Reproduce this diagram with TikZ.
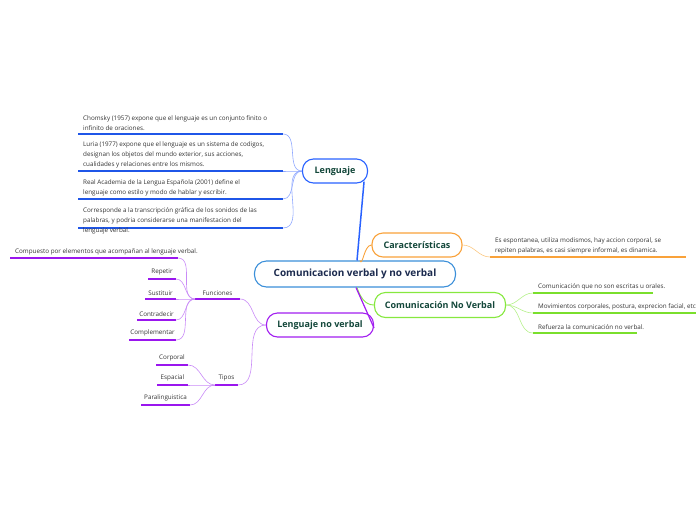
\documentclass[tikz,border=0pt]{standalone}
\usepackage{fontspec}
\setmainfont{Open Sans}
\usetikzlibrary{calc}
\definecolor{rootline}{HTML}{3B8FD9}
\definecolor{roottxt}{HTML}{1B2A4E}
\definecolor{topictxt}{HTML}{13473A}
\definecolor{leaftxt}{HTML}{333333}
\definecolor{lenblue}{HTML}{2962FF}
\definecolor{lenthin}{HTML}{8FA8FF}
\definecolor{lenul}{HTML}{1F56E8}
\definecolor{carorange}{HTML}{F9A23A}
\definecolor{carthin}{HTML}{FBC882}
\definecolor{cnvgreen}{HTML}{86E83F}
\definecolor{cnvthin}{HTML}{B5F08A}
\definecolor{cnvul}{HTML}{7ADF2C}
\definecolor{lnvpurple}{HTML}{A21EF0}
\definecolor{lnvthin}{HTML}{C98BF7}
\definecolor{lnvul}{HTML}{9A16EE}

\begin{document}
\begin{tikzpicture}[x=1pt,y=-1pt,
  topic/.style={draw,rounded corners=11pt,line width=1.1pt,fill=white,text=topictxt,
    font=\bfseries\fontsize{9}{11}\selectfont,minimum height=24pt,inner sep=2pt},
  leaf/.style={font=\fontsize{6.3}{10}\selectfont,text=leaftxt,align=left,inner sep=1pt,anchor=south west},
  short/.style={font=\fontsize{6.3}{10}\selectfont,text=leaftxt,inner sep=1.5pt,anchor=south},
  ul/.style={line width=1.6pt},
  ln/.style={line width=0.6pt}]
\useasboundingbox (0,0) rectangle (696,520);

% main topics
\node[topic,draw=rootline,text=roottxt,font=\bfseries\fontsize{10}{12}\selectfont,minimum width=201pt,minimum height=26pt,rounded corners=12pt] (root) at (355,274) {Comunicacion verbal y no verbal};
\node[topic,draw=lenblue,minimum width=65pt] (len) at (335,171) {Lenguaje};
\node[topic,draw=carorange,minimum width=90pt] (car) at (417,245) {Características};
\node[topic,draw=cnvgreen,minimum width=131pt,minimum height=25pt] (cnv) at (440,305) {Comunicación No Verbal};
\node[topic,draw=lnvpurple,minimum width=107pt] (lnv) at (320,325) {Lenguaje no verbal};

\draw[lenblue,line width=1.5pt] ([xshift=2pt]root.north) -- ($(len.south east)+(-4,-2)$);
\draw[carorange,line width=0.9pt] ([xshift=5pt]root.north) to[out=-70,in=180] (car.west);
\draw[cnvgreen,line width=0.9pt] ([xshift=2pt]root.south) to[out=-70,in=180] (cnv.west);
\draw[lnvpurple,line width=1.2pt] ([xshift=1pt]root.south) -- ($(lnv.east)+(0,3)$);

% Lenguaje
\foreach \n/\y/\t in {chom/134/{Chomsky (1957) expone que el lenguaje es un conjunto finito o\\infinito de oraciones.},
  luri/171/{Luria (1977) expone que el lenguaje es un sistema de codigos,\\designan los objetos del mundo exterior, sus acciones,\\cualidades y relaciones entre los mismos.},
  real/199/{Real Academia de la Lengua Española (2001) define el\\lenguaje como estilo y modo de hablar y escribir.}}{
  \coordinate (\n-a) at (78,\y); \coordinate (\n-b) at (283,\y);
  \draw[ul,lenul] (\n-a) -- (\n-b);
  \node[leaf] (\n) at ($(\n-a)+(4,-2)$) {\t};
  \draw[ln,lenthin] (\n-b) to[out=0,in=180] (len.west);
}
\coordinate (corr-a) at (78,228); \coordinate (corr-b) at (283,228);
\draw[ul,lenul] (corr-a) -- (corr-b);
\node[leaf,anchor=north west] (corr) at (82,206) {Corresponde a la transcripción gráfica de los sonidos de las\\palabras, y podria considerarse una manifestacion del\\lenguaje verbal.};
\draw[ln,lenthin] (corr-b) to[out=0,in=180] (len.west);

% Caracteristicas
\coordinate (esp-a) at (490,257); \coordinate (esp-b) at (686,257);
\draw[ul,carorange] (esp-a) -- (esp-b);
\node[leaf] (esp) at ($(esp-a)+(4,-2)$) {Es espontanea, utiliza modismos, hay accion corporal, se\\repiten palabras, es casi siempre informal, es dinamica.};
\draw[ln,carthin] (car.east) to[out=0,in=180] (esp-a);

% Comunicacion No Verbal
\foreach \n/\y/\e/\t in {esc/293/653/{Comunicación que no son escritas u orales.},
  mov/313/700/{Movimientos corporales, postura, exprecion facial, etc},
  ref/333/637/{Refuerza la comunicación no verbal.}}{
  \coordinate (\n-a) at (533,\y); \coordinate (\n-b) at (\e,\y);
  \draw[ul,cnvul] (\n-a) -- (\n-b);
  \node[leaf] (\n) at ($(\n-a)+(4,-2)$) {\t};
  \draw[ln,cnvthin] (cnv.east) to[out=0,in=180] (\n-a);
}

% Lenguaje no verbal
\coordinate (fun-a) at (195,299); \coordinate (fun-b) at (240,299);
\draw[ul,lnvul] (fun-a) -- (fun-b);
\node[short] (fun) at ($(fun-a)!0.5!(fun-b)+(0,-2)$) {Funciones};
\draw[ln,lnvthin] (fun-b) to[out=0,in=180] (lnv.west);

\coordinate (tip-a) at (215,385); \coordinate (tip-b) at (238,385);
\draw[ul,lnvul] (tip-a) -- (tip-b);
\node[short] (tip) at ($(tip-a)!0.5!(tip-b)+(0,-2)$) {Tipos};
\draw[ln,lnvthin] (tip-b) to[out=0,in=180] (lnv.west);

\coordinate (comp-a) at (10,258); \coordinate (comp-b) at (178,258);
\draw[ul,lnvul] (comp-a) -- (comp-b);
\node[leaf] (comp) at ($(comp-a)+(4,-2)$) {Compuesto por elementos que acompañan al lenguaje verbal.};
\draw[ln,lnvthin] (comp-b) to[out=0,in=180] (fun-a);

\foreach \n/\x/\y/\t in {rep/148/279/Repetir, sus/145/299/Sustituir, con/137/320/Contradecir, cmp/129/340/Complementar}{
  \coordinate (\n-a) at (\x,\y); \coordinate (\n-b) at (176,\y);
  \draw[ul,lnvul] (\n-a) -- (\n-b);
  \node[short] (\n) at ($(\n-a)!0.5!(\n-b)+(0,-2)$) {\t};
  \draw[ln,lnvthin] (\n-b) to[out=0,in=180] (fun-a);
}
\foreach \n/\x/\y/\e/\t in {cor/156/365/188/Corporal, esl/157/385/188/Espacial, par/141/405/190/Paralinguistica}{
  \coordinate (\n-a) at (\x,\y); \coordinate (\n-b) at (\e,\y);
  \draw[ul,lnvul] (\n-a) -- (\n-b);
  \node[short] (\n) at ($(\n-a)!0.5!(\n-b)+(0,-2)$) {\t};
  \draw[ln,lnvthin] (\n-b) to[out=0,in=180] (tip-a);
}
\end{tikzpicture}
\end{document}
